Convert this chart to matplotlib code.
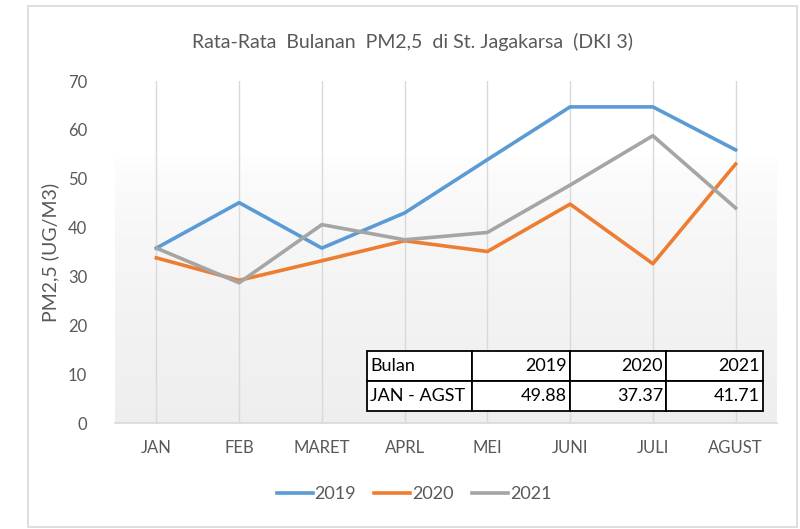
import numpy as np
import matplotlib.pyplot as plt
from matplotlib.patches import Rectangle

plt.rcParams['font.family'] = ['Lato', 'DejaVu Sans']

# Monthly PM2.5 averages (ug/m3)
months = ['JAN', 'FEB', 'MARET', 'APRL', 'MEI', 'JUNI', 'JULI', 'AGUST']
pm_2019 = [35.8, 45.1, 35.8, 43.0, 53.9, 64.7, 64.7, 55.9]
pm_2020 = [33.8, 29.2, 33.2, 37.3, 35.1, 44.8, 32.6, 53.0]
pm_2021 = [35.8, 28.7, 40.6, 37.5, 39.0, 48.7, 58.8, 44.0]
years = ['2019', '2020', '2021']
colors = ['#5B9BD5', '#ED7D31', '#A5A5A5']

# summary table
table_header = ['Bulan', '2019', '2020', '2021']
table_row = ['JAN - AGST', '49.88', '37.37', '41.71']

text_gray = '#595959'

fig = plt.figure(figsize=(8, 5.29), dpi=100)

# outer chart frame
fig.patches.append(Rectangle((28 / 800, 0.003), 769 / 800, 1 - 6 / 529 - 0.003,
                             transform=fig.transFigure, fill=False,
                             edgecolor='#d9d9d9', linewidth=1.2))

rect = [115 / 800, 1 - 423 / 529, 662 / 800, 342 / 529]

# soft vertical gradient behind the plot area
bg = fig.add_axes(rect, zorder=0)
grad = np.linspace(0, 1, 256).reshape(-1, 1)
shade = np.clip((grad - 0.22) / 0.78, 0, 1) ** 0.6
img = np.repeat(1 - 0.065 * shade, 3, axis=1).reshape(256, 1, 3)
bg.imshow(img, aspect='auto', extent=[0, 1, 0, 1], origin='upper')
bg.axis('off')

ax = fig.add_axes(rect, zorder=1)
ax.patch.set_alpha(0)
x = np.arange(len(months))

for xi in x:
    ax.axvline(xi, color='#d9d9d9', linewidth=1, zorder=1)

for vals, year, c in zip([pm_2019, pm_2020, pm_2021], years, colors):
    ax.plot(x, vals, color=c, linewidth=2.6, label=year, zorder=3)

ax.set_xlim(-0.5, len(months) - 0.5)
ax.set_ylim(0, 70)
ax.set_yticks(range(0, 71, 10))
ax.set_xticks(x)
ax.set_xticklabels(months)
ax.tick_params(axis='both', length=0, labelsize=12, colors=text_gray)
ax.tick_params(axis='x', pad=12)
ax.tick_params(axis='y', pad=20)
for side in ['top', 'right', 'left']:
    ax.spines[side].set_visible(False)
ax.spines['bottom'].set_color('#d9d9d9')
ax.spines['bottom'].set_linewidth(1.2)

ax.set_ylabel('PM2,5 (UG/M3)', fontsize=14, color=text_gray, labelpad=6)

fig.text(0.515, 1 - 42 / 529, 'Rata-Rata  Bulanan  PM2,5  di St. Jagakarsa  (DKI 3)',
         ha='center', va='center', fontsize=14, color=text_gray)

# summary table inside the plot
tbl = ax.table(cellText=[table_row], colLabels=table_header,
               colWidths=[105, 98, 96, 97],
               bbox=[(367 - 115) / 662, (423 - 411) / 342, 396 / 662, 60 / 342],
               zorder=5)
tbl.auto_set_font_size(False)
for (r, c), cell in tbl.get_celld().items():
    cell.set_facecolor('white')
    cell.set_edgecolor('black')
    cell.set_linewidth(1.3)
    cell.get_text().set_fontsize(13)
    cell.get_text().set_color('black')
    cell.set_text_props(ha='left' if c == 0 else 'right')
    cell.PAD = 0.03

leg = fig.legend(loc='center', bbox_to_anchor=(0.5175, 1 - 494 / 529), ncol=3,
                 frameon=False, fontsize=13, handlelength=2.0, handletextpad=0.1,
                 columnspacing=1.0)
for t in leg.get_texts():
    t.set_color(text_gray)

fig.savefig('out.png', dpi=100)
